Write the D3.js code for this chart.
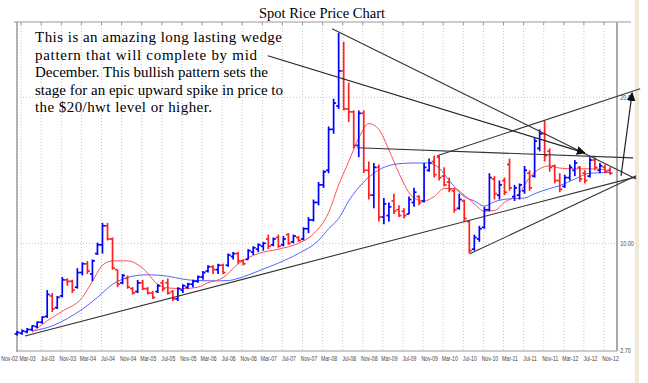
<!DOCTYPE html>
<html><head><meta charset="utf-8">
<script src="https://cdn.jsdelivr.net/npm/d3@7"></script>
<style>body{margin:0;background:#fff;} svg{display:block}</style>
</head><body>
<svg id="c" width="648" height="383"></svg>
<script>
// ---- data (month offsets counted from Nov-2002) ----
const xLabels = ["Nov-02","Mar-03","Jul-03","Nov-03","Mar-04","Jul-04","Nov-04","Mar-05","Jul-05","Nov-05","Mar-06","Jul-06","Nov-06","Mar-07","Jul-07","Nov-07","Mar-08","Jul-08","Nov-08","Mar-09","Jul-09","Nov-09","Mar-10","Jul-10","Nov-10","Mar-11","Jul-11","Nov-11","Mar-12","Jul-12","Nov-12"];
const xTickMonths = [0,4,8,12,16,20,24,28,32,36,40,44,48,52,56,60,64,68,72,76,80,84,88,92,96,100,104,108,112,116,120];
const yTicks = [2.7, 10, 20];

const barMonth = [2,3,4,5,6,7,8,9,10,11,12,13,14,15,16,17,18,19,20,21,22,23,24,25,26,27,28,29,30,31,32,33,34,35,36,37,38,39,40,41,42,43,44,45,46,47,48,49,50,51,52,53,54,55,56,57,58,59,60,61,62,63,64,65,66,67,68,69,70,71,72,73,74,75,76,77,78,79,80,81,82,83,84,85,86,87,88,89,90,91,92,93,94,95,96,97,98,99,100,101,102,103,104,105,106,107,108,109,110,111,112,113,114,115,116,117,118,119,120];
const openP  = [3.8,3.85,3.95,4.1,4.3,4.6,5.0,6.4,5.6,6.4,7.5,7.4,7.0,8.0,8.6,7.9,9.3,9.9,11.2,10.3,8.2,7.3,7.6,6.9,6.7,7.3,6.9,6.6,6.7,7.3,7.3,6.7,6.2,6.8,7.0,7.2,7.4,7.7,8.1,8.4,8.2,8.5,8.5,9.1,9.3,8.8,8.9,9.4,9.6,9.8,10.3,9.9,10.4,9.9,10.6,10.1,10.4,10.3,11.0,11.6,12.8,14.0,15.0,17.8,19.4,21.8,19.2,19.0,16.7,18.9,15.0,13.3,15.2,11.8,11.9,12.9,12.3,12.2,12.0,12.8,13.2,12.9,15.0,15.6,15.9,14.6,14.2,13.6,12.4,12.9,11.5,9.6,10.3,11.1,12.3,14.4,13.3,14.3,15.4,13.2,13.3,13.6,14.8,14.6,16.5,17.5,16.3,15.3,14.3,13.9,14.5,15.0,15.2,14.8,14.6,15.7,15.0,15.2,15.0];
const highP  = [4.0,4.1,4.2,4.4,4.65,5.0,6.8,6.6,6.4,7.7,7.6,7.5,8.3,8.7,8.8,8.9,10.05,11.4,11.4,10.4,8.2,7.9,7.8,7.0,7.5,7.5,7.0,6.75,7.2,7.5,7.6,6.8,7.0,7.2,7.3,7.5,7.8,8.1,8.5,8.5,8.6,8.6,9.3,9.4,9.4,8.9,9.6,9.8,10.0,10.1,10.6,10.4,10.6,10.5,10.7,10.6,10.5,11.1,11.8,13.0,14.2,15.0,18.0,19.9,24.4,23.8,21.0,19.1,19.1,19.1,15.6,15.5,15.4,13.1,12.8,13.4,12.6,12.4,13.2,13.8,13.3,15.5,15.8,16.0,16.0,15.2,14.5,13.8,13.4,13.0,11.6,10.6,11.2,12.5,14.8,14.6,14.3,14.5,15.8,14.0,14.1,15.3,15.0,17.2,17.8,18.4,16.5,15.4,14.8,14.7,15.4,15.7,15.3,15.0,15.9,15.9,15.5,15.4,15.2];
const lowP   = [3.7,3.75,3.85,4.0,4.2,4.5,4.9,5.3,5.5,6.3,7.1,6.6,6.9,7.8,7.9,7.4,9.2,9.3,10.2,8.2,7.0,7.2,6.9,6.5,6.6,6.8,6.5,6.2,6.6,6.7,6.5,6.05,6.05,6.6,6.9,7.0,7.3,7.5,8.0,7.9,7.9,7.9,8.4,8.9,8.6,8.5,8.9,9.2,9.4,9.5,9.6,9.8,9.7,9.8,9.9,10.0,10.1,10.2,10.7,11.5,12.6,13.8,14.8,17.5,19.2,19.1,18.3,16.5,15.9,14.8,13.0,12.4,11.5,11.3,11.5,12.0,11.8,11.7,12.0,12.5,12.6,12.8,14.9,14.5,14.3,13.9,13.5,12.1,12.3,11.5,9.3,9.5,10.1,11.0,12.2,13.0,13.0,13.3,13.6,12.9,13.0,13.4,13.6,14.5,16.3,15.6,14.9,14.1,13.5,13.8,14.3,14.6,14.2,14.1,14.5,15.0,14.8,14.8,14.7];
const closeP = [3.9,4.0,4.1,4.35,4.6,4.95,6.5,5.5,6.3,7.5,7.4,6.8,8.0,8.6,8.1,8.8,9.9,11.2,10.3,8.3,7.2,7.8,7.0,6.6,7.3,6.9,6.6,6.3,7.1,6.9,6.6,6.2,6.9,7.1,7.2,7.4,7.7,8.0,8.4,8.2,8.5,8.0,9.2,9.3,8.8,8.6,9.5,9.7,9.9,10.0,9.8,10.3,9.8,10.3,10.0,10.5,10.2,11.0,11.6,12.8,14.0,14.9,17.8,19.6,21.8,19.2,19.0,16.7,18.9,15.0,13.3,15.2,11.8,12.7,12.5,12.2,11.9,11.9,13.0,13.5,12.8,15.2,15.5,14.7,14.5,14.0,13.7,12.3,13.0,11.7,9.5,10.4,11.0,12.3,14.5,13.4,14.0,13.5,13.8,13.8,14.0,15.0,13.8,17.0,17.5,16.0,15.2,14.3,13.7,14.5,15.2,15.5,14.4,14.3,15.7,15.2,15.3,14.9,14.8];

const maFastMonth = [5,8,11,15,17,19,21,24,27,30,32,35,38,40,43,46,50,54,58,61,64,66,68,70,72,74,76,78,81,83,85,87,89,91,93,95,97,99,102,104,106,108,110,113,117,120];
const maFastValue = [3.9,4.7,5.35,6.3,7.4,8.5,8.8,8.8,8.3,7.2,6.95,6.9,7.0,7.3,7.65,8.6,9.3,9.6,10.0,10.65,12.1,14.0,15.6,17.2,18.2,17.8,16.4,14.8,13.1,12.9,13.2,13.75,13.75,13.3,12.7,12.2,12.25,12.8,13.45,14.5,15.1,15.3,15.15,15.1,15.1,14.95];
const maSlowMonth = [5,9,12,15,18,21,23,25,28,32,35,38,42,44,46,50,54,58,62,64,66,68,71,75,78,81,84,86,88,91,93,95,97,100,103,105,108,110,113,116,120];
const maSlowValue = [4.0,4.35,4.85,5.5,6.3,7.2,7.55,7.75,7.85,7.75,7.55,7.45,7.43,7.45,7.6,8.1,8.65,9.3,10.2,11.0,11.7,12.9,14.2,15.2,15.45,15.5,15.5,15.15,14.3,13.2,12.9,12.55,12.85,13.05,13.1,13.4,13.75,13.95,14.4,14.8,14.85];

// trend lines: [fromMonth, fromPrice, toMonth, toPrice]
const trendNames = ["support","wedgeTop","lowRise","resist","upRise"];
const trendFromM = [3.6, 64.7, 92.1, 69.65, 85.6];
const trendFromP = [3.66, 24.69, 9.28, 16.54, 15.99];
const trendToM   = [125.2, 125.2, 125.2, 124.6, 126.0];
const trendToP   = [14.55, 14.41, 14.62, 15.85, 20.58];
const arrowFromM = [51.9, 122.2];
const arrowFromP = [22.84, 14.62];
const arrowToM   = [115.0, 124.4];
const arrowToP   = [16.19, 20.3];

const title = "Spot Rice Price Chart";
const noteLines = ["This is an amazing long lasting wedge","pattern that will complete by mid","December. This bullish pattern sets the","stage for an epic upward spike in price to","the $20/hwt level or higher."];
const noteWidths = [247, 222, 233, 248, 177];

// ---- drawing ----
const svg = d3.select("#c");
const P = {l:17, r:617, t:22, b:351};
const x = d3.scaleLinear().domain([0,120]).range([7,610]);
const y = d3.scaleLinear().domain([2.7,25.15]).range([350,22]);
const gridShift = -6;

// right page edge strip
svg.append("rect").attr("x",635).attr("y",0).attr("width",4).attr("height",383).attr("fill","#efe9d8");

// grid
svg.append("g").selectAll("line").data(xTickMonths.filter(m=>x(m)+gridShift>P.l+2))
  .join("line").attr("x1",d=>x(d)+gridShift).attr("x2",d=>x(d)+gridShift)
  .attr("y1",P.t).attr("y2",P.b).attr("stroke","#c8c8c8").attr("stroke-dasharray","1,2");
svg.append("g").selectAll("line").data(yTicks.filter(v=>v>2.7))
  .join("line").attr("x1",P.l).attr("x2",P.r).attr("y1",d=>y(d)).attr("y2",d=>y(d))
  .attr("stroke","#c8c8c8").attr("stroke-dasharray","1,2");
// top ticks
svg.append("g").selectAll("line").data(xTickMonths.filter(m=>x(m)+gridShift>P.l+2))
  .join("line").attr("x1",d=>x(d)+gridShift).attr("x2",d=>x(d)+gridShift)
  .attr("y1",P.t).attr("y2",P.t+3).attr("stroke","#999");

// frame
svg.append("line").attr("x1",P.l-3).attr("x2",631).attr("y1",P.t).attr("y2",P.t).attr("stroke","#999");
svg.append("line").attr("x1",P.l).attr("x2",P.l).attr("y1",P.t).attr("y2",P.b+1).attr("stroke","#999").attr("stroke-width",1.5);
svg.append("line").attr("x1",P.l).attr("x2",P.r).attr("y1",P.b).attr("y2",P.b).attr("stroke","#999");
svg.append("line").attr("x1",P.r).attr("x2",P.r).attr("y1",P.t).attr("y2",P.b).attr("stroke","#aaa").attr("stroke-width",2);

// axes
const labelFont = "'Liberation Sans','DejaVu Sans',sans-serif";
const xAxis = d3.axisBottom(x).tickValues(xTickMonths).tickSize(0).tickFormat((d,i)=>xLabels[i]);
const gx = svg.append("g").attr("transform",`translate(0,${P.b})`).call(xAxis);
gx.select(".domain").remove();
gx.selectAll("text").attr("dy","0.95em").attr("fill","#444")
  .attr("dx",(d,i)=>i===0?3:0).attr("transform","scale(0.68,1)")
  .style("font-family",labelFont).style("font-size","7.5px");
const yAxis = d3.axisRight(y).tickValues(yTicks).tickSize(0).tickFormat(d3.format(".2f"));
const gy = svg.append("g").attr("transform",`translate(${P.r+1},0)`).call(yAxis);
gy.select(".domain").remove();
gy.selectAll("text").attr("fill","#444").attr("transform","scale(0.72,1)")
  .style("font-family",labelFont).style("font-size","7.5px");

// moving averages
const lineGen = d3.line().x(d=>x(d[0])).y(d=>y(d[1])).curve(d3.curveMonotoneX);
svg.append("path").attr("d",lineGen(maSlowMonth.map((m,i)=>[m,maSlowValue[i]])))
  .attr("fill","none").attr("stroke","#5565ff").attr("stroke-width",1);
svg.append("path").attr("d",lineGen(maFastMonth.map((m,i)=>[m,maFastValue[i]])))
  .attr("fill","none").attr("stroke","#ff5050").attr("stroke-width",1);

// OHLC bars
const bars = barMonth.map((m,i)=>({m,o:openP[i],h:highP[i],l:lowP[i],c:closeP[i]}));
const bg = svg.append("g").selectAll("g").data(bars).join("g")
  .attr("stroke",d=>d.c>=d.o?"#0000ff":"#ff2020").attr("stroke-width",1.7);
bg.append("line").attr("x1",d=>x(d.m)).attr("x2",d=>x(d.m)).attr("y1",d=>y(d.h)).attr("y2",d=>y(d.l));
bg.append("line").attr("x1",d=>x(d.m)-2.5).attr("x2",d=>x(d.m)).attr("y1",d=>y(d.o)).attr("y2",d=>y(d.o));
bg.append("line").attr("x1",d=>x(d.m)).attr("x2",d=>x(d.m)+2.5).attr("y1",d=>y(d.c)).attr("y2",d=>y(d.c));

// trend lines
svg.append("g").selectAll("line").data(trendNames).join("line")
  .attr("x1",(d,i)=>x(trendFromM[i])).attr("y1",(d,i)=>y(trendFromP[i]))
  .attr("x2",(d,i)=>x(trendToM[i])).attr("y2",(d,i)=>y(trendToP[i]))
  .attr("stroke","#333").attr("stroke-width",1.1);

// arrows
svg.append("defs").append("marker").attr("id","ah").attr("viewBox","0 0 10 10")
  .attr("refX",9).attr("refY",5).attr("markerWidth",9).attr("markerHeight",9)
  .attr("markerUnits","userSpaceOnUse").attr("orient","auto")
  .append("path").attr("d","M0,0L10,5L0,10z").attr("fill","#111");
svg.append("g").selectAll("line").data(arrowFromM).join("line")
  .attr("x1",(d,i)=>x(arrowFromM[i])).attr("y1",(d,i)=>y(arrowFromP[i]))
  .attr("x2",(d,i)=>x(arrowToM[i])).attr("y2",(d,i)=>y(arrowToP[i]))
  .attr("stroke","#222").attr("stroke-width",1.2).attr("marker-end","url(#ah)");

// title and note
svg.append("text").attr("x",322).attr("y",18).attr("text-anchor","middle")
  .style("font-family","'Liberation Serif','DejaVu Serif',serif").style("font-size","14.5px").attr("fill","#000").text(title);
svg.append("g").selectAll("text").data(noteLines).join("text")
  .attr("x",35).attr("y",(d,i)=>42+i*17.6)
  .attr("textLength",(d,i)=>noteWidths[i]).attr("lengthAdjust","spacing")
  .style("font-family","'Liberation Serif','DejaVu Serif',serif").style("font-size","15px").attr("fill","#000")
  .text(d=>d);
</script>
</body></html>
